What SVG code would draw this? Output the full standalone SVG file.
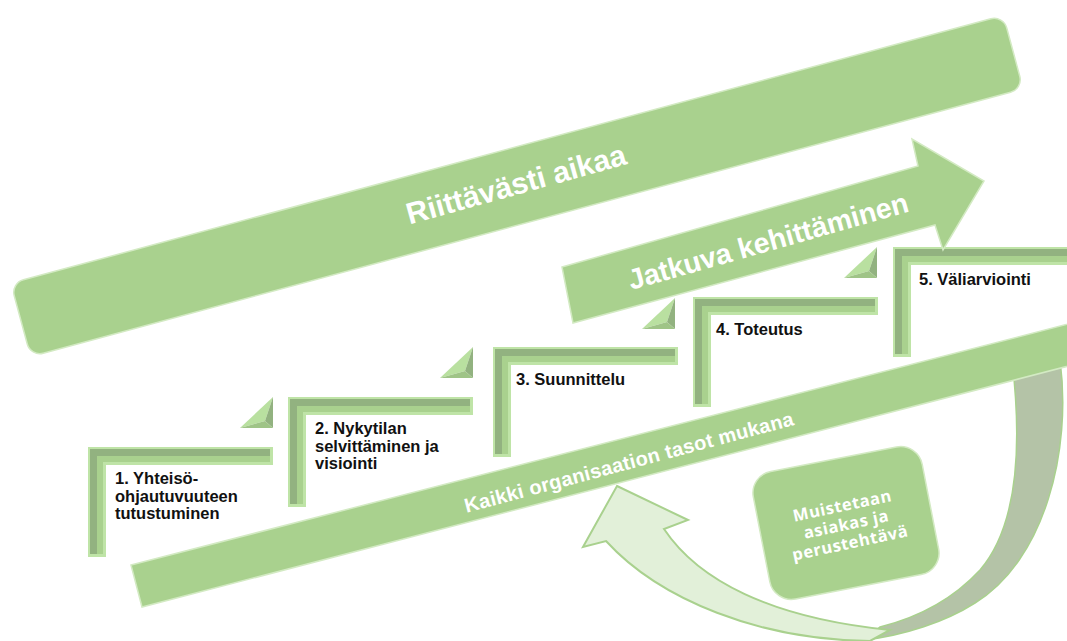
<svg xmlns="http://www.w3.org/2000/svg" width="1067" height="641" viewBox="0 0 1067 641">
<defs>
<style>
.g{fill:#A9D18E;stroke:#D3EAC3;stroke-width:1.5}
.wt{font-family:"Liberation Sans",Arial,sans-serif;font-weight:bold;fill:#fff;text-anchor:middle;dominant-baseline:central}
.lbl{font-family:"Liberation Sans",Arial,sans-serif;font-weight:bold;font-size:16.5px;fill:#111}
.rim{fill:#BFE4A7}
.dk{fill:#92B280}
.lt{fill:#A9D18E}
.md{fill:#9FC487}
.hl{fill:#B9E0A0}
</style>
<g id="br">
<polygon class="rim" points="0,0 185,0 185,18 18,18 18,110 0,110"/>
<polygon class="dk" points="2,2 182,2 182,9 9,9 9,107 2,107"/>
<polygon class="lt" points="9,9 182,9 182,15 15,15 15,107 9,107"/>
</g>
<g id="brw">
<polygon class="rim" points="0,0 200,0 200,18 18,18 18,110 0,110"/>
<polygon class="dk" points="2,2 200,2 200,9 9,9 9,107 2,107"/>
<polygon class="lt" points="9,9 200,9 200,15 15,15 15,107 9,107"/>
</g>
<g id="tri">
<polygon class="hl" points="-33,0 0,-31 -8,-7"/>
<polygon class="dk" points="0,-31 0,0 -8,-7"/>
<polygon class="md" points="0,0 -33,0 -8,-7"/>
</g>
</defs>
<rect width="1067" height="641" fill="#fff"/>

<g id="time">
<rect class="g" x="-514" y="-38" width="1028" height="76" rx="13" transform="translate(517,186) rotate(-15.1)"/>
<text class="wt" font-size="30" transform="translate(516,184) rotate(-15.5)">Riittävästi aikaa</text>
</g>

<g id="step1">
<use href="#br" x="88" y="447"/>
<use href="#tri" x="273" y="428"/>
<text class="lbl" x="115" y="484">1. Yhteisö-</text>
<text class="lbl" x="115" y="501.5">ohjautuvuuteen</text>
<text class="lbl" x="115" y="519">tutustuminen</text>
</g>
<g id="step2">
<use href="#br" x="288" y="397"/>
<use href="#tri" x="473" y="378"/>
<text class="lbl" x="315" y="434">2. Nykytilan</text>
<text class="lbl" x="315" y="451.5">selvittäminen ja</text>
<text class="lbl" x="315" y="469">visiointi</text>
</g>
<g id="step3">
<use href="#br" x="493" y="347"/>
<use href="#tri" x="675" y="329"/>
<text class="lbl" x="516" y="385">3. Suunnittelu</text>
</g>
<g id="step4">
<use href="#br" x="693" y="297"/>
<use href="#tri" x="877" y="278"/>
<text class="lbl" x="716" y="335">4. Toteutus</text>
</g>
<g id="step5">
<use href="#brw" x="893" y="247"/>
<text class="lbl" x="919" y="285">5. Väliarviointi</text>
</g>

<g id="develop">
<polygon class="g" points="562,267 918,166 912,139 984,181 943,250 935,225 573,323"/>
<text class="wt" font-size="28.5" transform="translate(768,241) rotate(-15.8)">Jatkuva kehittäminen</text>
</g>

<g id="connectors">
<path d="M1060,360 C1072,450 1045,560 975,603 C945,622 905,635 865,640 L880,627 C920,617 955,597 980,570 C1010,535 1025,470 1012,360 Z" fill="#B4C3A7" stroke="#A9D18E" stroke-width="1.5"/>
<path d="M617,486 L688,520 L664,529 C698,580 770,618 890,630 L870,641 C760,640 660,600 606,541 L583,547 Z" fill="#E2F0D9" stroke="#A9D18E" stroke-width="2"/>
</g>

<g id="levels">
<polygon class="g" points="131,565 1080,321 1080,363 142,607"/>
<text class="wt" font-size="20" letter-spacing="0.3" transform="translate(629,462) rotate(-15)">Kaikki organisaation tasot mukana</text>
</g>

<g id="reminder">
<rect class="g" x="-86" y="-65" width="172" height="130" rx="22" transform="translate(846,523) rotate(-11)"/>
<g transform="translate(846,523) rotate(-12)" font-family="'Open Sans','Noto Sans',sans-serif" font-weight="bold" font-size="16.5" letter-spacing="0.6" fill="#fff" text-anchor="middle">
<text x="0" y="-12">Muistetaan</text>
<text x="0" y="7">asiakas ja</text>
<text x="0" y="26">perustehtävä</text>
</g>
</g>
</svg>
